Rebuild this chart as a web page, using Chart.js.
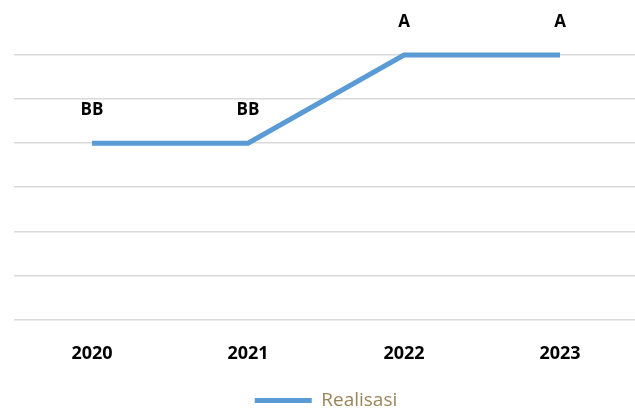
<!DOCTYPE html>
<html><head><meta charset="utf-8">
<script src="https://cdn.jsdelivr.net/npm/chart.js@4.4.0/dist/chart.umd.min.js"></script>
<style>
html,body{margin:0;padding:0;background:#fff;overflow:hidden;}
#wrap{width:645px;height:420px;position:relative;}
</style></head><body>
<div id="wrap"><canvas id="c"></canvas></div>
<script>
const categories = ["2020", "2021", "2022", "2023"];
const ratingLabels = ["BB", "BB", "A", "A"];
const ratingValues = [4, 4, 6, 6];
const seriesName = "Realisasi";

const dataLabelPlugin = {
  id: 'dataLabels',
  afterDatasetsDraw(chart) {
    const ctx = chart.ctx;
    const meta = chart.getDatasetMeta(0);
    ctx.save();
    ctx.font = 'bold 17px "Open Sans"';
    ctx.fillStyle = '#000';
    ctx.textAlign = 'center';
    ctx.textBaseline = 'middle';
    meta.data.forEach((pt, i) => {
      ctx.fillText(ratingLabels[i], pt.x, pt.y - 33);
    });
    ctx.restore();
  }
};

new Chart(document.getElementById('c'), {
  type: 'line',
  data: {
    labels: categories,
    datasets: [{
      label: seriesName,
      data: ratingValues,
      borderColor: '#5B9BD5',
      backgroundColor: '#5B9BD5',
      borderWidth: 5,
      pointRadius: 0,
      tension: 0,
      fill: false,
      clip: false,
      pointStyle: 'line'
    }]
  },
  options: {
    responsive: true,
    maintainAspectRatio: false,
    animation: false,
    layout: { padding: { top: 55, left: 14, right: 7, bottom: 0 } },
    scales: {
      x: {
        offset: true,
        grid: { display: false, drawTicks: false },
        border: { display: false },
        ticks: { color: '#000', font: { family: 'Open Sans', size: 18, weight: 'bold' }, padding: 24 }
      },
      y: {
        min: 0, max: 6,
        ticks: { display: false, stepSize: 1 },
        grid: { color: '#d9d9d9', lineWidth: 1.5, drawTicks: false },
        border: { display: false }
      }
    },
    plugins: {
      legend: {
        position: 'bottom',
        labels: {
          usePointStyle: true,
          pointStyleWidth: 57,
          color: '#9c8459',
          font: { family: 'Open Sans', size: 19 },
          padding: 2
        }
      },
      tooltip: { enabled: false }
    }
  },
  plugins: [dataLabelPlugin]
});
</script>
</body></html>
